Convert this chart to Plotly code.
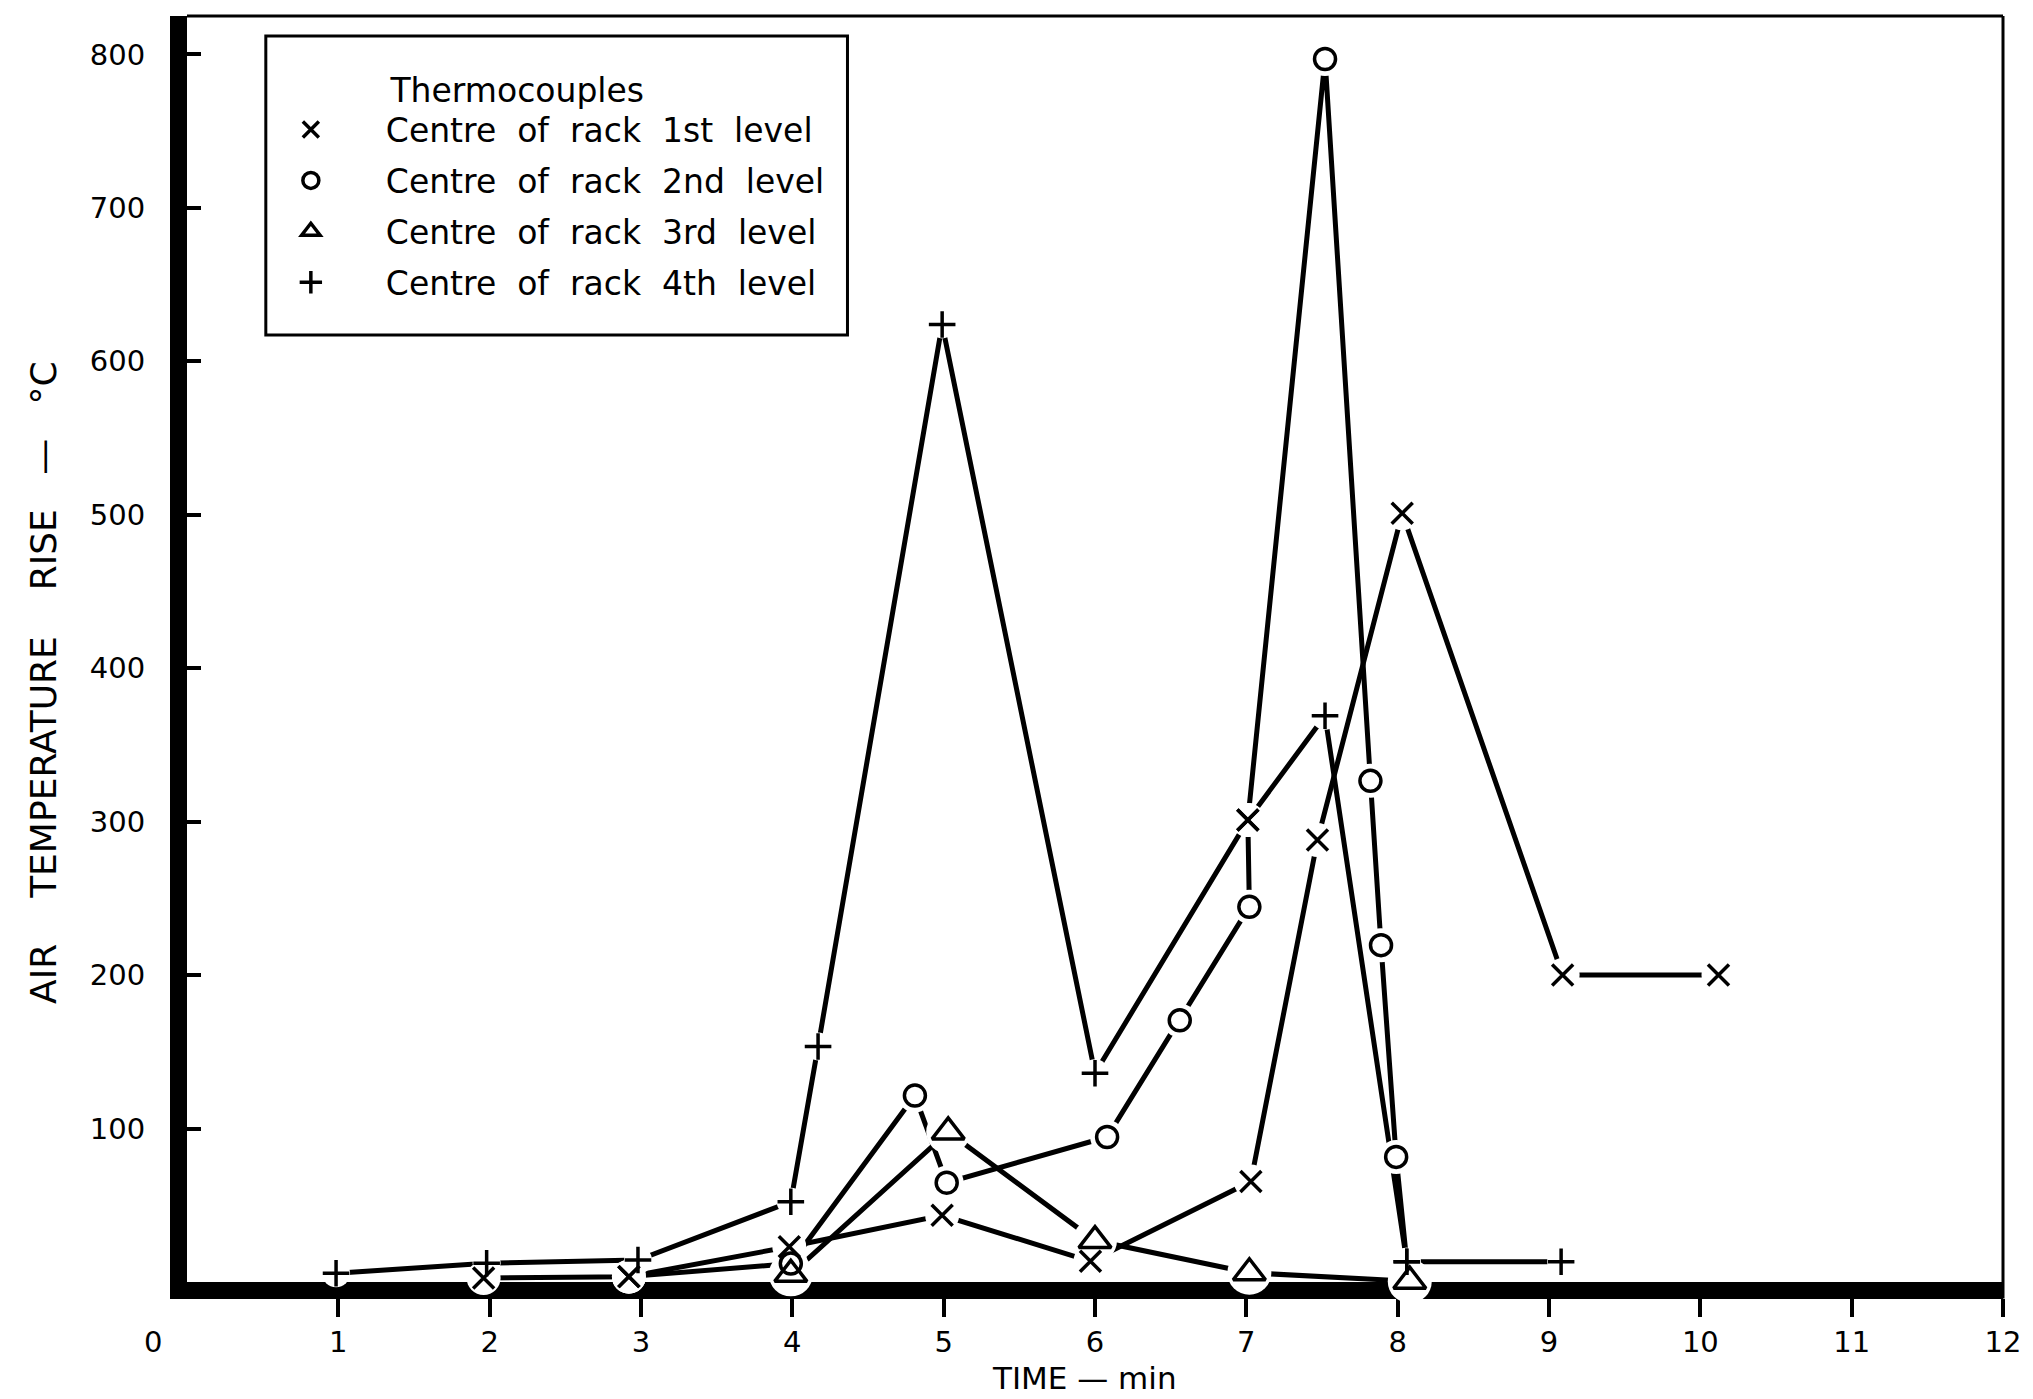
import plotly.graph_objects as go

# ---------------- data ----------------
time_1st = [1.96, 2.92, 3.98, 4.99, 5.97, 7.03, 7.47, 8.03, 9.09, 10.12]
rise_1st = [2.6, 3.5, 23, 43.5, 13.5, 65.5, 288, 501, 200, 200]
mark_1st = ['x'] * len(time_1st)

time_2nd = [2.92, 3.99, 4.81, 5.02, 6.08, 6.56, 7.02, 7.01, 7.52, 7.82, 7.89, 7.99, 8.06]
rise_2nd = [3.5, 12, 121.5, 64.7, 94.5, 170.5, 244.5, 301, 797, 326.6, 219.5, 81.5, 13.2]
mark_2nd = ['x', 'o', 'o', 'o', 'o', 'o', 'o', 'x', 'o', 'o', 'o', 'o', '+']

time_3rd = [3.99, 5.03, 6.0, 7.02, 8.08]
rise_3rd = [5, 97.8, 27, 6, 0.5]
mark_3rd = ['t'] * len(time_3rd)

time_4th = [0.985, 1.98, 2.98, 3.99, 4.17, 4.99, 6.0, 7.01, 7.52, 8.06, 9.08]
rise_4th = [5.7, 12.2, 14.3, 52.3, 153.5, 624, 136, 301, 369, 13.2, 13.2]
mark_4th = ['+', '+', '+', '+', '+', '+', '+', 'x', '+', '+', '+']

series_names = [
    "Centre  of  rack  1st  level",
    "Centre  of  rack  2nd  level",
    "Centre  of  rack  3rd  level",
    "Centre  of  rack  4th  level",
]
legend_marks = ['x', 'o', 't', '+']
legend_title = "Thermocouples"

x_tick_vals = [1, 2, 3, 4, 5, 6, 7, 8, 9, 10, 11, 12]
y_tick_vals = [100, 200, 300, 400, 500, 600, 700, 800]
x_title = "TIME \u2014 min"
y_title = "AIR    TEMPERATURE    RISE   \u2014   \u00b0C"

# ---------------- styles ----------------
FONT = "DejaVu Sans"
SYM = {'x': 'x-thin', 'o': 'circle-open', 't': 'triangle-up-open', '+': 'cross-thin'}
SIZE = {'x': 21, 'o': 21, 't': 28, '+': 19}
MASK = {'x': 34, 'o': 34, 't': 44, '+': 28}
LINE_W = 5
MARK_W = 3.5
LEG_FONT = 33
TICK_FONT = 29

series = [
    (time_1st, rise_1st, mark_1st),
    (time_2nd, rise_2nd, mark_2nd),
    (time_3rd, rise_3rd, mark_3rd),
    (time_4th, rise_4th, mark_4th),
]

fig = go.Figure()

# connecting lines
for xs, ys, ms in series:
    fig.add_trace(go.Scatter(x=xs, y=ys, mode='lines', showlegend=False,
                             line=dict(color='black', width=LINE_W),
                             hoverinfo='skip'))
# white masks that open small gaps round every symbol (as in the drawing)
for xs, ys, ms in series:
    fig.add_trace(go.Scatter(x=xs, y=ys, mode='markers', showlegend=False,
                             cliponaxis=False, hoverinfo='skip',
                             marker=dict(symbol='circle', color='white', opacity=1,
                                         size=[MASK[m] for m in ms],
                                         line=dict(width=0))))
# the symbols
for xs, ys, ms in series:
    fig.add_trace(go.Scatter(x=xs, y=ys, mode='markers', showlegend=False,
                             cliponaxis=False,
                             marker=dict(symbol=[SYM[m] for m in ms],
                                         size=[SIZE[m] for m in ms],
                                         color='black', opacity=1,
                                         line=dict(color='black', width=MARK_W))))
# legend entries (symbols only)
for i, (name, m) in enumerate(zip(series_names, legend_marks)):
    fig.add_trace(go.Scatter(x=[None], y=[None], mode='markers', name=name,
                             legendgroup=f"g{i}",
                             marker=dict(symbol=SYM[m], size=SIZE[m], color='black',
                                         opacity=1,
                                         line=dict(color='black', width=MARK_W))))

axis_common = dict(showgrid=False, zeroline=False, showline=True, linecolor='black',
                   linewidth=17, layer='below traces', tickcolor='black', tickwidth=4,
                   tickfont=dict(family=FONT, size=TICK_FONT, color='black'))

fig.update_layout(
    width=2033, height=1399,
    margin=dict(l=187, r=26, t=16, b=117),
    paper_bgcolor='white', plot_bgcolor='white',
    font=dict(family=FONT, color='black'),
    xaxis=dict(range=[0, 12], tickvals=x_tick_vals, ticks='outside', ticklen=18,
               **axis_common),
    yaxis=dict(range=[0, 825], tickvals=y_tick_vals, ticks='inside', ticklen=14,
               ticklabelstandoff=19, **axis_common),
    legend=dict(x=0.0269, y=0.9735, xanchor='left', yanchor='top',
                bgcolor='rgba(0,0,0,0)', borderwidth=0,
                font=dict(family=FONT, size=LEG_FONT, color='black'),
                title=dict(text="\u00a0" * 12 +
                           f"<span style='font-size:{LEG_FONT}px'>{legend_title}</span>",
                           font=dict(family=FONT, size=40)),
                tracegroupgap=5, itemwidth=140),
    shapes=[
        # top and right frame lines
        dict(type='line', xref='paper', yref='paper', x0=0, x1=1, y0=1, y1=1,
             line=dict(color='black', width=3)),
        dict(type='line', xref='paper', yref='paper', x0=1, x1=1, y0=-0.013, y1=1,
             line=dict(color='black', width=3)),
        # legend frame
        dict(type='rect', xref='paper', yref='paper', x0=0.0434, x1=0.3637,
             y0=0.748, y1=0.9842, line=dict(color='black', width=3),
             fillcolor='rgba(0,0,0,0)', layer='above'),
    ],
    annotations=[
        dict(text=y_title, textangle=-90, xref='paper', yref='paper',
             x=-0.0791, y=0.4735, xanchor='center', yanchor='middle', showarrow=False,
             font=dict(family=FONT, size=36, color='black')),
        dict(text=x_title, xref='paper', yref='paper', x=0.494, y=-0.0758,
             xanchor='center', yanchor='middle', showarrow=False,
             font=dict(family=FONT, size=31, color='black')),
        dict(text='0', xref='paper', yref='paper', x=-0.0187, y=-0.0474,
             xanchor='center', yanchor='middle', showarrow=False,
             font=dict(family=FONT, size=TICK_FONT, color='black')),
    ],
)

fig.write_html("out.html")
